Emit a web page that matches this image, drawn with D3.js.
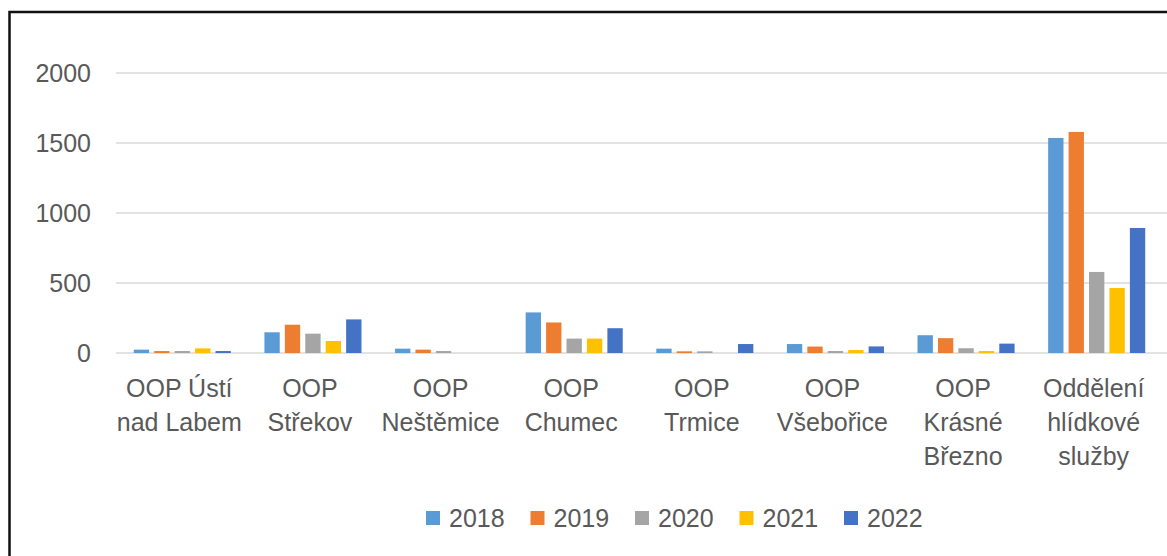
<!DOCTYPE html>
<html>
<head>
<meta charset="utf-8">
<script src="https://cdn.jsdelivr.net/npm/d3@7"></script>
<style>
    body { margin: 0; background: #fff; }
    text { font-family: "Liberation Sans", Arial, sans-serif; fill: #595959; }
</style>
</head>
<body>
<div id="chart"></div>
<script>
// categories (each label split in lines)
var categories = ["OOP Ústí nad Labem", "OOP Střekov", "OOP Neštěmice", "OOP Chumec",
    "OOP Trmice", "OOP Všebořice", "OOP Krásné Březno", "Oddělení hlídkové služby"];
var categoryLines = [["OOP Ústí", "nad Labem"], ["OOP", "Střekov"], ["OOP", "Neštěmice"], ["OOP", "Chumec"],
    ["OOP", "Trmice"], ["OOP", "Všebořice"], ["OOP", "Krásné", "Březno"], ["Oddělení", "hlídkové", "služby"]];

var years = ["2018", "2019", "2020", "2021", "2022"];
var values2018 = [24, 148, 31, 290, 31, 64, 127, 1536];
var values2019 = [14, 202, 24, 218, 12, 46, 106, 1579];
var values2020 = [14, 138, 14, 103, 12, 14, 34, 579];
var values2021 = [33, 86, 0, 103, 0, 21, 14, 464];
var values2022 = [14, 240, 0, 177, 64, 47, 67, 893];
var seriesValues = [values2018, values2019, values2020, values2021, values2022];
var colors = ["#5B9BD5", "#ED7D31", "#A5A5A5", "#FFC000", "#4472C4"];

var yTicks = [0, 500, 1000, 1500, 2000];

var width = 1167, height = 556;
var plot = {left: 117, right: 1162, top: 73, bottom: 353};

var svg = d3.select("#chart").append("svg")
    .attr("width", width)
    .attr("height", height);

// scales
var x0 = d3.scaleBand().domain(categories).range([plot.left, plot.right])
    .paddingInner(0.257).paddingOuter(0.1285);
var x1 = d3.scaleBand().domain(years).range([0, x0.bandwidth()]).paddingInner(0.25);
var y = d3.scaleLinear().domain([0, 2000]).range([plot.bottom, plot.top]);

// gridlines run to the right edge of the picture
svg.append("g").selectAll("line").data(yTicks).enter().append("line")
    .attr("x1", plot.left - 1)
    .attr("x2", width)
    .attr("y1", function(d){ return y(d); })
    .attr("y2", function(d){ return y(d); })
    .style("stroke", "#d9d9d9")
    .style("stroke-width", 1.5);

// y tick labels
svg.append("g").selectAll("text").data(yTicks).enter().append("text")
    .attr("x", 91)
    .attr("y", function(d){ return y(d) + 9; })
    .style("text-anchor", "end")
    .style("font-size", "25px")
    .text(function(d){ return d; });

// bars, one group per series
years.forEach(function(year, s){
    svg.append("g").selectAll("rect").data(seriesValues[s]).enter().append("rect")
        .attr("x", function(d, i){ return x0(categories[i]) + x1(year); })
        .attr("width", x1.bandwidth())
        .attr("y", function(d){ return y(d); })
        .attr("height", function(d){ return y(0) - y(d); })
        .style("fill", colors[s]);
});

// category labels
var labels = svg.append("g").selectAll("text").data(categories).enter().append("text")
    .attr("x", function(d){ return x0(d) + x0.bandwidth() / 2 - 3; })
    .attr("y", 397)
    .style("text-anchor", "middle")
    .style("font-size", "25px");
labels.selectAll("tspan").data(function(d, i){ return categoryLines[i]; }).enter().append("tspan")
    .attr("x", function(){ return d3.select(this.parentNode).attr("x"); })
    .attr("dy", function(d, i){ return i == 0 ? 0 : 34; })
    .text(function(d){ return d; });

// legend
var legend = svg.append("g").selectAll("g").data(years).enter().append("g")
    .attr("transform", function(d, i){ return "translate(" + (426 + i * 104.5) + ",0)"; });
legend.append("rect")
    .attr("y", 511)
    .attr("width", 14)
    .attr("height", 14)
    .style("fill", function(d, i){ return colors[i]; });
legend.append("text")
    .attr("x", 23)
    .attr("y", 527)
    .style("font-size", "25px")
    .text(function(d){ return d; });

// frame (only left and top edges are visible in the picture)
svg.append("path")
    .attr("d", "M9.5," + height + "V12H" + width)
    .style("fill", "none")
    .style("stroke", "#111")
    .style("stroke-width", 2.5);
</script>
</body>
</html>
